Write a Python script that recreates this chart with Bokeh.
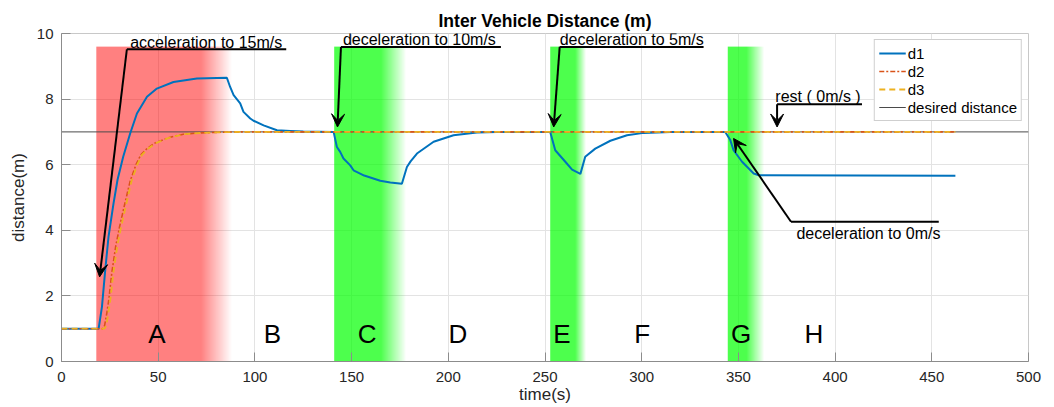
import numpy as np
from bokeh.plotting import figure
from bokeh.models import Range1d, FixedTicker, Legend, LegendItem, Arrow, VeeHead, ColumnDataSource
from bokeh.core.properties import value
from bokeh.embed import file_html
from bokeh.resources import INLINE

FONT = "Liberation Sans"

# ---------------- data ----------------
x_ticks = [0, 50, 100, 150, 200, 250, 300, 350, 400, 450, 500]
y_ticks = [0, 2, 4, 6, 8, 10]

d1_t = [0, 19.2, 20.9, 22.6, 24.3, 26.9, 29.0, 31.9, 35.5, 39.0, 44.2, 49.3, 57.9, 70.0, 85.5,
        87.2, 89.0, 92.4, 94.1, 97.6, 99.3, 104.5, 111.4, 118.3, 125.0, 140.7,
        142.4, 144.1, 145.8, 149.3, 151.0, 156.5, 164.8, 170.0, 176.0, 178.6, 180.5, 183.8,
        192.4, 202.7, 214.8, 225.0, 252.7,
        255.3, 260.5, 264.0, 268.3, 270.8, 276.0, 283.8, 292.4, 301.0, 315.0, 343.2,
        345.8, 347.5, 351.9, 357.9, 360.5, 462.2]
d1_v = [1.0, 1.0, 1.66, 2.78, 3.8, 4.82, 5.55, 6.24, 6.95, 7.56, 8.07, 8.32, 8.52, 8.63, 8.65,
        8.37, 8.12, 7.87, 7.61, 7.41, 7.34, 7.2, 7.05, 7.03, 7.01, 7.0,
        6.54, 6.39, 6.19, 5.98, 5.83, 5.67, 5.51, 5.46, 5.42, 5.93, 6.1, 6.34,
        6.7, 6.9, 6.98, 7.0, 7.0,
        6.44, 6.09, 5.85, 5.72, 6.24, 6.49, 6.73, 6.9, 6.97, 7.0, 7.0,
        6.75, 6.44, 6.09, 5.73, 5.68, 5.66]

d2_t = [0, 21.3, 22.3, 23.5, 24.5, 26.0, 28.0, 30.0, 32.5, 35.5, 38.5, 41.0, 44.0, 48.0, 55.0,
        63.0, 72.0, 82.0, 92.0, 462.2]
d2_v = [1.0, 1.0, 1.1, 1.5, 1.9, 2.7, 3.5, 4.1, 4.75, 5.5, 6.0, 6.3, 6.48, 6.65, 6.82,
        6.93, 6.97, 6.99, 7.0, 7.0]

d3_t = [0, 22.3, 23.2, 24.3, 25.3, 26.8, 28.8, 30.8, 33.3, 36.2, 39.2, 41.6, 44.6, 48.5, 55.5,
        63.5, 72.5, 82.5, 92.5, 462.2]
d3_v = [1.0, 1.0, 1.1, 1.5, 1.9, 2.7, 3.5, 4.1, 4.75, 5.5, 6.0, 6.3, 6.48, 6.65, 6.82,
        6.93, 6.97, 6.99, 7.0, 7.0]

desired_t = [0, 500]
desired_v = [7, 7]

# shaded phases
phase_start = [18.0, 141.0, 252.7, 344.5]
phase_solid_end = [72.0, 165.0, 265.5, 354.0]
phase_end = [88.0, 178.0, 271.0, 363.0]
phase_top = [9.6, 9.6, 9.6, 9.6]
phase_rgb = [(255, 0, 0), (0, 255, 0), (0, 255, 0), (0, 255, 0)]
phase_alpha = [0.5, 0.7, 0.7, 0.7]

# region letters
region_labels = ["A", "B", "C", "D", "E", "F", "G", "H"]
region_t = [49.3, 109.0, 158.0, 205.0, 258.8, 300.3, 351.4, 389.0]
region_v = [0.85, 0.85, 0.85, 0.85, 0.85, 0.85, 0.85, 0.85]

# annotations
ann_text = ["acceleration to 15m/s", "deceleration to 10m/s", "deceleration to 5m/s",
            "rest ( 0m/s )", "deceleration to 0m/s"]
ann_text_t = [35.5, 145.5, 257.6, 369.1, 380.0]
ann_text_v = [9.72, 9.81, 9.81, 8.07, 3.9]
ann_corner_t = [33.8, 144.5, 257.6, 370.0, 377.2]
ann_corner_v = [9.52, 9.59, 9.59, 7.84, 4.26]
ann_end_t = [116.2, 227.2, 332.0, 413.9, 453.6]
ann_tip_t = [19.7, 142.7, 254.5, 370.0, 347.5]
ann_tip_v = [2.58, 7.15, 7.15, 7.15, 6.8]

# ---------------- figure ----------------
p = figure(width=1046, height=406, x_range=Range1d(0, 500), y_range=Range1d(0, 10),
           output_backend="svg", toolbar_location=None,
           min_border_left=61, min_border_right=18, min_border_top=33, min_border_bottom=45)
p.title.text = "Inter Vehicle Distance (m)"
p.title.align = "center"
p.title.text_font = FONT
p.title.text_font_size = "17.5px"
p.title.text_font_style = "bold"
p.title.text_color = "black"
p.title.standoff = 6

for ax in (p.xaxis[0], p.yaxis[0]):
    ax.axis_line_color = "#8c8c8c"
    ax.major_tick_line_color = "#8c8c8c"
    ax.major_tick_in = 9
    ax.major_tick_out = 0
    ax.minor_tick_line_color = None
    ax.major_label_text_font = FONT
    ax.major_label_text_font_size = "15px"
    ax.major_label_text_color = "#262626"
    ax.axis_label_text_font = FONT
    ax.axis_label_text_font_size = "17px"
    ax.axis_label_text_font_style = "normal"
    ax.axis_label_text_color = "#262626"
p.xaxis.ticker = FixedTicker(ticks=x_ticks)
p.yaxis.ticker = FixedTicker(ticks=y_ticks)
p.xaxis.axis_label = "time(s)"
p.yaxis.axis_label = "distance(m)"
p.xaxis.major_label_standoff = 10
p.xaxis.axis_label_standoff = 0
p.yaxis.major_label_standoff = 8
p.yaxis.axis_label_standoff = 6
p.xgrid.ticker = FixedTicker(ticks=x_ticks)
p.ygrid.ticker = FixedTicker(ticks=y_ticks)
p.grid.grid_line_color = "#e3e3e3"
p.outline_line_color = "#c8c8c8"
p.background_fill_color = "white"

# shaded phases with fading right edge
W = 400
for s, se, e, top, rgb, a0 in zip(phase_start, phase_solid_end, phase_end, phase_top, phase_rgb, phase_alpha):
    xs = s + (np.arange(W) + 0.5) / W * (e - s)
    alpha = np.where(xs < se, a0, a0 * np.clip(1 - (xs - se) / (e - se), 0, 1))
    img = np.zeros((1, W), dtype=np.uint32)
    view = img.view(dtype=np.uint8).reshape((1, W, 4))
    view[0, :, 0] = rgb[0]
    view[0, :, 1] = rgb[1]
    view[0, :, 2] = rgb[2]
    view[0, :, 3] = (alpha * 255).astype(np.uint8)
    p.image_rgba(image=[img], x=s, y=0, dw=e - s, dh=top)

# lines
r_des = p.line(desired_t, desired_v, line_color="#4a4a4a", line_width=1)
r1 = p.line(d1_t, d1_v, line_color="#0072BD", line_width=2)
r2 = p.line(d2_t, d2_v, line_color="#D95319", line_width=1.6, line_dash="5 2 2 2")
r3 = p.line(d3_t, d3_v, line_color="#EDB120", line_width=1.8, line_dash="6 4")

# region letters
p.text(x=region_t, y=region_v, text=region_labels, text_font=value(FONT), text_font_size="26px",
       text_align="center", text_baseline="middle", text_color="black")

# annotations: horizontal bars, arrows and texts
p.segment(x0=ann_corner_t, y0=ann_corner_v, x1=ann_end_t, y1=ann_corner_v, line_color="black", line_width=2)
arrow_src = ColumnDataSource(dict(xs=ann_corner_t, ys=ann_corner_v, xe=ann_tip_t, ye=ann_tip_v))
p.add_layout(Arrow(source=arrow_src, x_start="xs", y_start="ys", x_end="xe", y_end="ye",
                   line_color="black", line_width=2,
                   end=VeeHead(size=13, fill_color="black", line_color="black", line_width=1)))
p.text(x=ann_text_t, y=ann_text_v, text=ann_text, text_font=value(FONT), text_font_size="16px",
       text_align="left", text_baseline="alphabetic", text_color="black")

legend = Legend(items=[LegendItem(label="d1", renderers=[r1]),
                       LegendItem(label="d2", renderers=[r2]),
                       LegendItem(label="d3", renderers=[r3]),
                       LegendItem(label="desired distance", renderers=[r_des])],
                location="top_right")
legend.label_text_font = FONT
legend.label_text_font_size = "15px"
legend.label_text_color = "black"
legend.glyph_width = 27
legend.glyph_height = 18
legend.label_height = 18
legend.label_standoff = 2
legend.spacing = 0
legend.padding = 4
legend.margin = 6
legend.border_line_color = "#a0a0a0"
legend.border_line_width = 1
legend.background_fill_alpha = 1
p.add_layout(legend)

open("out.html", "w").write(file_html(p, INLINE))
